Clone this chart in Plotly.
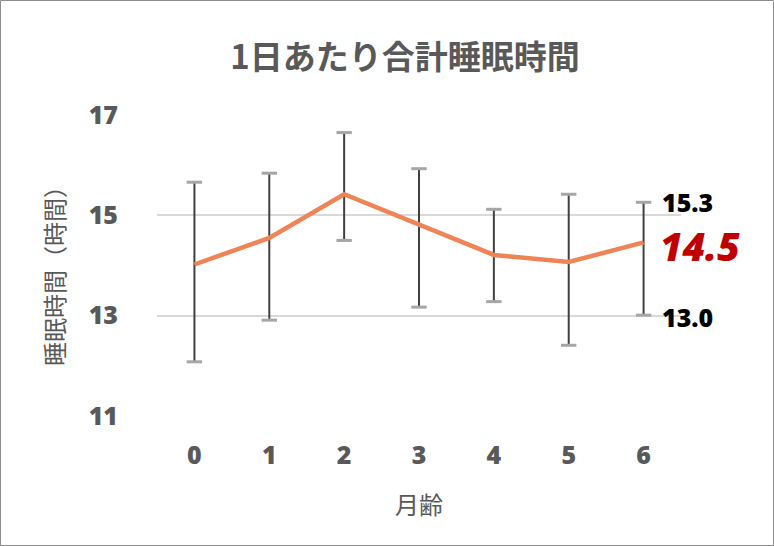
"""1日あたり合計睡眠時間 - line with error bars, recreated in Plotly."""

import plotly.graph_objects as go

# data
months = [0, 1, 2, 3, 4, 5, 6]
mean_hours = [14.02, 14.55, 15.42, 14.82, 14.21, 14.07, 14.46]
upper_hours = [15.66, 15.84, 16.65, 15.93, 15.12, 15.42, 15.26]
lower_hours = [12.08, 12.91, 14.50, 13.17, 13.28, 12.41, 13.01]

W, H = 774, 546
ML, MR, MT, MB = 157, 93, 115, 130
GRAY = '#595959'
JP = 'Noto Sans CJK JP'
NUM = 'Open Sans, Noto Sans CJK JP'

err_plus = [u - m for u, m in zip(upper_hours, mean_hours)]
err_minus = [m - l for m, l in zip(mean_hours, lower_hours)]

fig = go.Figure()

# error bar stems (dark), no caps
fig.add_trace(go.Scatter(
    x=months, y=mean_hours, mode='markers',
    marker=dict(size=1, color='rgba(0,0,0,0)'),
    error_y=dict(type='data', symmetric=False, array=err_plus, arrayminus=err_minus,
                 color='#404040', thickness=2, width=0),
    hoverinfo='skip', showlegend=False,
))

# light gray caps at top and bottom
fig.add_trace(go.Scatter(
    x=months + months, y=upper_hours + lower_hours, mode='markers',
    marker=dict(symbol='line-ew', size=11, line=dict(width=3, color='#A6A6A6')),
    hoverinfo='skip', showlegend=False,
))

# mean line
fig.add_trace(go.Scatter(
    x=months, y=mean_hours, mode='lines',
    line=dict(color='#EF8456', width=4.5),
    showlegend=False,
))

# value labels at last month
last = months[-1]
fig.add_annotation(x=last, y=upper_hours[-1], text=f'{upper_hours[-1]:.1f}',
                   showarrow=False, xanchor='left', xshift=16, yshift=0,
                   font=dict(family=NUM, size=25, color='black', weight=800))
fig.add_annotation(x=last, y=mean_hours[-1], text=f'<i>{mean_hours[-1]:.1f}</i>',
                   showarrow=False, xanchor='left', xshift=14, yshift=-3,
                   font=dict(family=NUM, size=39, color='#C00000', weight=800))
fig.add_annotation(x=last, y=lower_hours[-1], text=f'{lower_hours[-1]:.1f}',
                   showarrow=False, xanchor='left', xshift=16, yshift=-2,
                   font=dict(family=NUM, size=25, color='black', weight=800))

pw = W - ML - MR
ph = H - MT - MB

# y axis title as a rotated annotation so it sits where the reference has it
fig.add_annotation(text='睡眠時間（時間）', textangle=-90, showarrow=False,
                   xref='paper', yref='paper',
                   x=(53 - ML) / pw, y=(H - MB - 270) / ph,
                   xanchor='center', yanchor='middle',
                   font=dict(family=JP, size=24, color=GRAY))

# outer border
fig.add_shape(type='rect', xref='paper', yref='paper',
              x0=-(ML - 0.5) / pw, x1=(W - ML - 0.5) / pw,
              y0=-(MB - 0.5) / ph, y1=(H - MB - 0.5) / ph,
              line=dict(color='#8C8C8C', width=1))

fig.update_xaxes(
    range=[-0.5, 6.5], tickvals=months, ticktext=[str(m) for m in months],
    showgrid=False, zeroline=False, showline=False, ticks='',
    tickfont=dict(family=NUM, size=25, color=GRAY, weight=800),
    ticklabelstandoff=22,
    title=dict(text='月齢', font=dict(family=JP, size=24, color=GRAY), standoff=27),
)
fig.update_yaxes(
    range=[11, 17], tickvals=[11, 13, 15, 17],
    showgrid=True, gridcolor='#D9D9D9', gridwidth=1.5, zeroline=False, showline=False, ticks='',
    tickfont=dict(family=NUM, size=25, color=GRAY, weight=800),
    ticklabelstandoff=38,
)

fig.update_layout(
    width=W, height=H,
    margin=dict(l=ML, r=MR, t=MT, b=MB),
    paper_bgcolor='white', plot_bgcolor='white',
    title=dict(text='<b>1日あたり合計睡眠時間</b>', x=405 / W, xanchor='center',
               y=1 - 57 / H, yanchor='middle',
               font=dict(family=JP, size=33, color=GRAY)),
)

# drop the page's default body margin so the chart sits at the window edge
fig.write_html("out.html", config={'displayModeBar': False},
               post_script="document.body.style.margin='0';")
